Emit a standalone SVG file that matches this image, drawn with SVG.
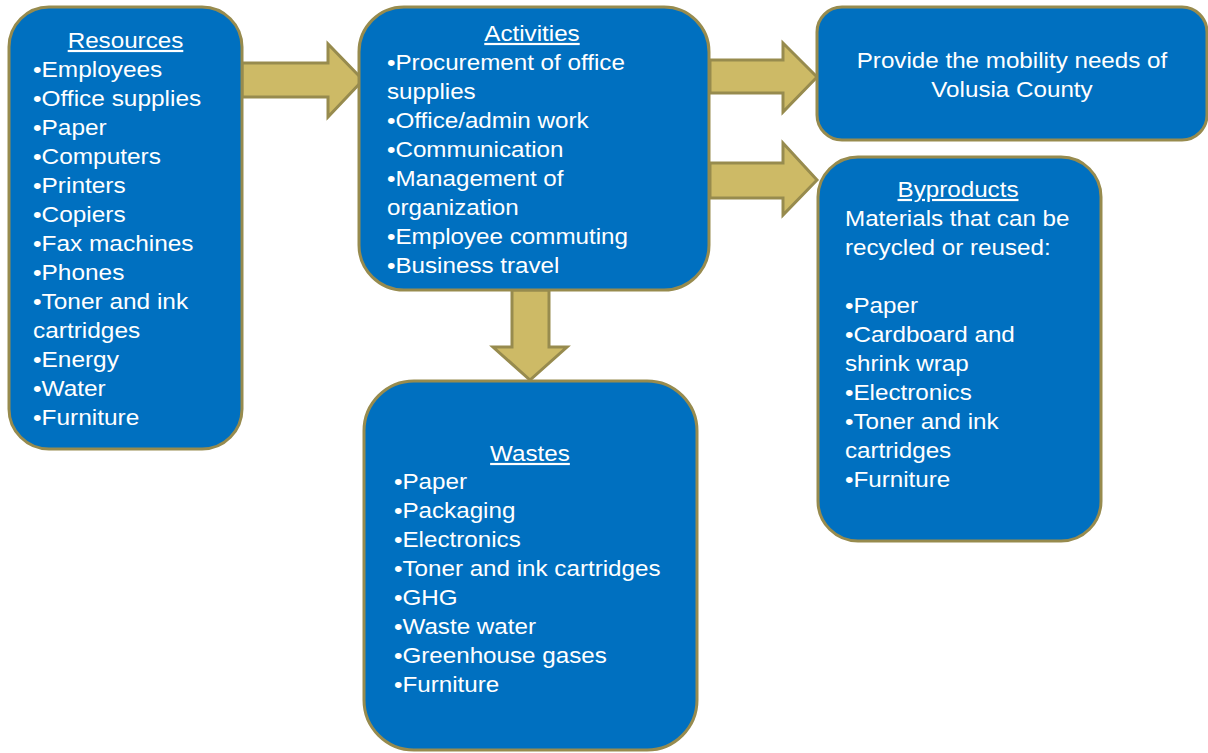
<svg xmlns="http://www.w3.org/2000/svg" width="1208" height="753" viewBox="0 0 1208 753">
<style>
.box{fill:#0070C0;stroke:#978B4E;stroke-width:3}
.arr{fill:#CDBA66;stroke:#978B4E;stroke-width:3;stroke-linejoin:miter}
text{font-family:"Liberation Sans",Arial,sans-serif;font-size:22px;fill:#FFFFFF}
.t{text-anchor:middle;text-decoration:underline}
.c{text-anchor:middle}
</style>
<rect width="1208" height="753" fill="#FFFFFF"/>
<g id="connectors">
<polygon class="arr" points="242,63 328,63 328,44 363,80 328,117 328,97 242,97"/>
<polygon class="arr" points="710,60 783,60 783,43 817,77 783,112 783,93 710,93"/>
<polygon class="arr" points="710,163 783,163 783,143 817,180 783,215 783,198 710,198"/>
<polygon class="arr" points="512,290 549,290 549,347 567,347 530,380 493,347 512,347"/>
</g>
<g id="resources">
<rect class="box" x="9" y="7" width="233" height="442" rx="40" ry="40"/>
<text class="t" x="125.5" y="48" transform="translate(125.5 0) scale(1.1 1) translate(-125.5 0)">Resources</text>
<g transform="translate(33 0) scale(1.11 1) translate(-33 0)">
<text x="33" y="77">•Employees</text>
<text x="33" y="106">•Office supplies</text>
<text x="33" y="135">•Paper</text>
<text x="33" y="164">•Computers</text>
<text x="33" y="193">•Printers</text>
<text x="33" y="222">•Copiers</text>
<text x="33" y="251">•Fax machines</text>
<text x="33" y="280">•Phones</text>
<text x="33" y="309">•Toner and ink</text>
<text x="33" y="338">cartridges</text>
<text x="33" y="367">•Energy</text>
<text x="33" y="396">•Water</text>
<text x="33" y="425">•Furniture</text>
</g>
</g>
<g id="activities">
<rect class="box" x="359" y="7" width="350" height="283" rx="45" ry="45"/>
<text class="t" x="532" y="41" transform="translate(532 0) scale(1.1 1) translate(-532 0)">Activities</text>
<g transform="translate(387 0) scale(1.1 1) translate(-387 0)">
<text x="387" y="70">•Procurement of office</text>
<text x="387" y="99">supplies</text>
<text x="387" y="128">•Office/admin work</text>
<text x="387" y="157">•Communication</text>
<text x="387" y="186">•Management of</text>
<text x="387" y="215">organization</text>
<text x="387" y="244">•Employee commuting</text>
<text x="387" y="273">•Business travel</text>
</g>
</g>
<g id="outcome">
<rect class="box" x="817" y="7" width="390" height="133" rx="25" ry="25"/>
<g transform="translate(1012 0) scale(1.1 1) translate(-1012 0)">
<text class="c" x="1012" y="68">Provide the mobility needs of</text>
<text class="c" x="1012" y="97">Volusia County</text>
</g>
</g>
<g id="byproducts">
<rect class="box" x="818" y="157" width="283" height="384" rx="40" ry="40"/>
<text class="t" x="958" y="197" transform="translate(958 0) scale(1.1 1) translate(-958 0)">Byproducts</text>
<g transform="translate(845 0) scale(1.1 1) translate(-845 0)">
<text x="845" y="226">Materials that can be</text>
<text x="845" y="255">recycled or reused:</text>
<text x="845" y="313">•Paper</text>
<text x="845" y="342">•Cardboard and</text>
<text x="845" y="371">shrink wrap</text>
<text x="845" y="400">•Electronics</text>
<text x="845" y="429">•Toner and ink</text>
<text x="845" y="458">cartridges</text>
<text x="845" y="487">•Furniture</text>
</g>
</g>
<g id="wastes">
<rect class="box" x="364" y="381" width="333" height="369" rx="50" ry="50"/>
<text class="t" x="530" y="461" transform="translate(530 0) scale(1.1 1) translate(-530 0)">Wastes</text>
<g transform="translate(394 0) scale(1.1 1) translate(-394 0)">
<text x="394" y="489">•Paper</text>
<text x="394" y="518">•Packaging</text>
<text x="394" y="547">•Electronics</text>
<text x="394" y="576">•Toner and ink cartridges</text>
<text x="394" y="605">•GHG</text>
<text x="394" y="634">•Waste water</text>
<text x="394" y="663">•Greenhouse gases</text>
<text x="394" y="692">•Furniture</text>
</g>
</g>
</svg>
